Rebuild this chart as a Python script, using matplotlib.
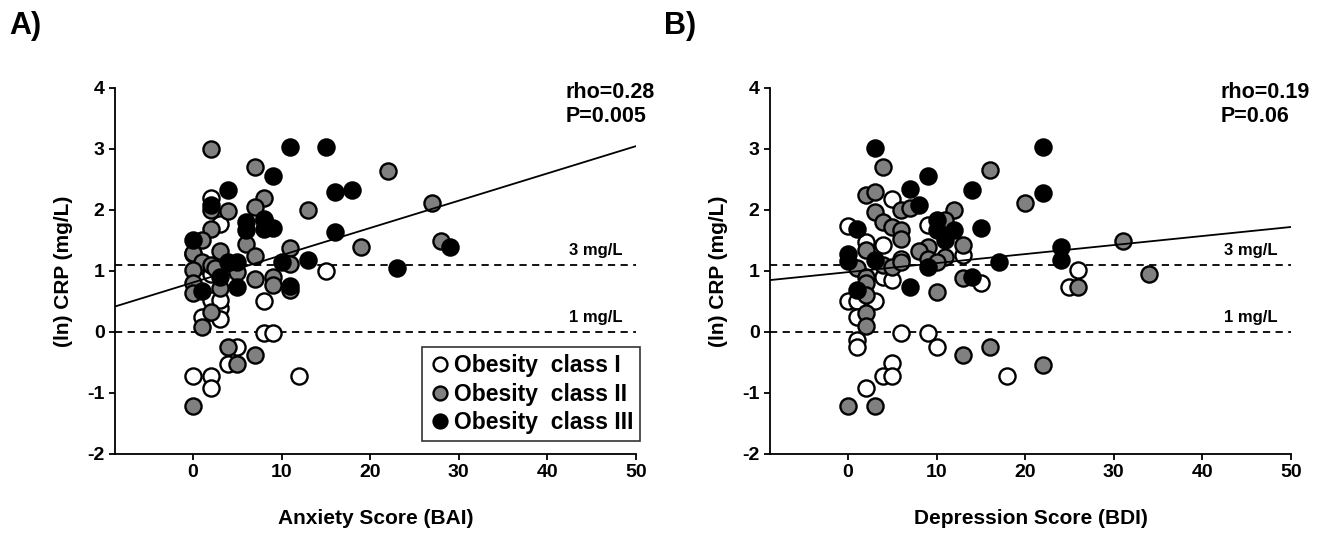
import numpy as np
import matplotlib.pyplot as plt
from matplotlib.lines import Line2D

plt.rcParams['font.family'] = ['Liberation Sans', 'DejaVu Sans']
plt.rcParams['font.weight'] = 'bold'
plt.rcParams['axes.labelweight'] = 'bold'
plt.rcParams['axes.unicode_minus'] = False

# Panel A: anxiety score (BAI) vs ln CRP, by obesity class
bai_c1 = [2, 3, 0, 1, 2, 15, 8, 2, 3, 1, 3, 8, 9, 5, 4, 0, 2, 2, 12, 3]
crp_a_c1 = [2.2, 1.77, 1.27, 1.1, 0.95, 1.0, 0.51, 0.52, 0.39, 0.25, 0.22, -0.02, -0.02,
            -0.25, -0.52, -0.72, -0.72, -0.92, -0.72, 0.52]
bai_c2 = [2, 7, 8, 7, 4, 2, 13, 22, 27, 8, 2, 1, 6, 3, 0, 11, 7, 28, 19, 11, 1, 2, 0, 2.5,
          5, 7, 9, 0, 0, 3, 9, 11, 2, 1, 4, 7, 5, 0]
crp_a_c2 = [3.0, 2.7, 2.2, 2.05, 1.98, 2.0, 2.0, 2.64, 2.12, 1.85, 1.68, 1.5, 1.44, 1.32,
            1.29, 1.37, 1.24, 1.49, 1.4, 1.12, 1.15, 1.1, 1.02, 1.04, 0.99, 0.87, 0.9, 0.8,
            0.63, 0.72, 0.77, 0.69, 0.32, 0.08, -0.25, -0.38, -0.52, -1.22]
bai_c3 = [11, 15, 9, 4, 16, 18, 2, 6, 6, 8, 8, 9, 0, 16, 4, 5, 10, 13, 29, 23, 3, 1, 5, 11]
crp_a_c3 = [3.03, 3.03, 2.56, 2.33, 2.3, 2.33, 2.08, 1.8, 1.67, 1.83, 1.69, 1.7, 1.5, 1.63,
            1.15, 1.15, 1.15, 1.18, 1.4, 1.05, 0.9, 0.67, 0.73, 0.75]

# Panel B: depression score (BDI) vs ln CRP
bdi_c1 = [5, 0, 2, 4, 9, 13, 6, 4, 5, 15, 0, 1, 3, 1, 6, 9, 10, 1, 1, 5, 4, 5, 2, 18, 26, 25]
crp_b_c1 = [2.18, 1.73, 1.48, 1.43, 1.75, 1.26, 1.2, 0.9, 0.85, 0.8, 0.5, 0.5, 0.5, 0.25,
            -0.01, -0.01, -0.24, -0.13, -0.25, -0.51, -0.72, -0.72, -0.92, -0.72, 1.02, 0.73]
bdi_c2 = [4, 16, 2, 3, 6, 7, 3, 12, 20, 4, 5, 6, 6, 11, 2, 13, 9, 8, 11, 9, 10, 1, 2, 2, 4,
          5, 6, 13, 10, 2, 2, 2, 31, 26, 34, 13, 16, 22, 0, 3]
crp_b_c2 = [2.7, 2.65, 2.25, 2.3, 2.0, 2.03, 1.97, 2.0, 2.12, 1.8, 1.72, 1.67, 1.52, 1.84,
            1.35, 1.43, 1.4, 1.32, 1.23, 1.2, 1.15, 1.04, 0.9, 0.8, 1.1, 1.07, 1.15, 0.88,
            0.66, 0.6, 0.31, 0.09, 1.49, 0.73, 0.95, -0.38, -0.25, -0.54, -1.21, -1.21]
bdi_c3 = [3, 22, 9, 7, 14, 22, 8, 10, 10, 12, 11, 15, 1, 0, 0, 3, 9, 17, 24, 24, 14, 7, 1]
crp_b_c3 = [3.02, 3.03, 2.55, 2.34, 2.33, 2.28, 2.08, 1.84, 1.67, 1.67, 1.5, 1.7, 1.68,
            1.27, 1.16, 1.18, 1.07, 1.15, 1.4, 1.18, 0.9, 0.74, 0.69]

# regression lines (intercept, slope)
fit_a = (0.81, 0.0447)
fit_b = (0.98, 0.0148)
stats_a = 'rho=0.28\nP=0.005'
stats_b = 'rho=0.19\nP=0.06'

colors = ['white', '#808080', 'black']
labels = ['Obesity  class I', 'Obesity  class II', 'Obesity  class III']

fig = plt.figure(figsize=(13.23, 5.4), dpi=100)
axA = fig.add_axes([0.0869, 0.1593, 0.3938, 0.678])
axB = fig.add_axes([0.582, 0.1593, 0.3938, 0.678])

panels = [
    (axA, [(bai_c1, crp_a_c1), (bai_c2, crp_a_c2), (bai_c3, crp_a_c3)], fit_a, stats_a,
     'Anxiety Score (BAI)', 'A)'),
    (axB, [(bdi_c1, crp_b_c1), (bdi_c2, crp_b_c2), (bdi_c3, crp_b_c3)], fit_b, stats_b,
     'Depression Score (BDI)', 'B)'),
]

for ax, groups, fit, stats, xlabel, tag in panels:
    for (x, y), c in zip(groups, colors):
        ax.scatter(x, y, s=135, facecolor=c, edgecolor='black', linewidth=1.7, zorder=3)
    xs = np.array([-8.8, 50])
    ax.plot(xs, fit[0] + fit[1] * xs, color='black', lw=1.3, zorder=4)
    ax.axhline(np.log(3), color='black', ls=(0, (4, 3)), lw=1.3, zorder=2)
    ax.axhline(0, color='black', ls=(0, (4, 3)), lw=1.3, zorder=2)
    ax.text(48.5, np.log(3) + 0.12, '3 mg/L', ha='right', va='bottom', fontsize=12)
    ax.text(48.5, 0.12, '1 mg/L', ha='right', va='bottom', fontsize=12)
    ax.text(42.1, 4.1, stats, ha='left', va='top', fontsize=15.5, linespacing=1.2)
    ax.set_xlim(-8.8, 50)
    ax.set_ylim(-2, 4)
    ax.set_xticks([0, 10, 20, 30, 40, 50])
    ax.set_yticks([-2, -1, 0, 1, 2, 3, 4])
    ax.tick_params(labelsize=14, width=1.3, length=4)
    ax.spines['top'].set_visible(False)
    ax.spines['right'].set_visible(False)
    ax.spines['left'].set_linewidth(1.3)
    ax.spines['bottom'].set_linewidth(1.3)
    ax.set_xlabel(xlabel, fontsize=15, labelpad=20)
    ax.set_ylabel('(ln) CRP (mg/L)', fontsize=15, labelpad=10)
    pos = ax.get_position()
    fig.text(pos.x0 - 0.08, 0.98, tag, fontsize=22, va='top', ha='left')

handles = [Line2D([], [], marker='o', ls='none', markersize=10, markerfacecolor=c,
                  markeredgecolor='black', markeredgewidth=1.7) for c in colors]
leg = axA.legend(handles, labels, loc='lower right', bbox_to_anchor=(1.008, 0.035),
                 fontsize=16.5, frameon=True, fancybox=False, handletextpad=0.1,
                 handlelength=1.0, borderpad=0.3, labelspacing=0.25, borderaxespad=0)
leg.get_frame().set_edgecolor('black')
leg.get_frame().set_linewidth(1.2)

plt.savefig('out.png', dpi=100)
